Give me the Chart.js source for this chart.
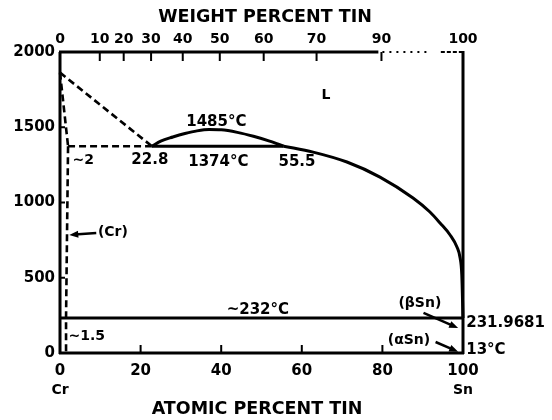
<!DOCTYPE html>
<html>
<head>
<meta charset="utf-8">
<script src="https://cdn.jsdelivr.net/npm/chart.js@4.4.1/dist/chart.umd.min.js"></script>
<style>
  html, body { margin: 0; padding: 0; background: #fff; }
  #wrap { width: 552px; height: 420px; }
</style>
</head>
<body>
<div id="wrap"><canvas id="c" width="552" height="420"></canvas></div>
<script>
// ---- Cr–Sn phase diagram data (composition in at.% Sn, temperature in °C) ----
const atomicTicks = [0, 20, 40, 60, 80, 100];
const tempTicks = [0, 500, 1000, 1500, 2000];
const weightTickValues = [0, 20, 30, 40, 50, 60, 70, 80, 90, 100];
const weightTickLabels = ['0', '10', '20', '30', '40', '50', '60', '70', '90', '100'];

const crMelt = 1863;
const monotecticT = 1374;
const monotecticLeft = 22.8;
const monotecticRight = 55.5;
const gapPeakT = 1485;
const snMelt = 231.9681;
const alphaBetaT = 13;
const crSolvusHigh = 2;
const crSolvusLow = 1.5;

// liquidus from pure Cr to the monotectic
const crLiquidusX = [0, monotecticLeft];
const crLiquidusT = [crMelt, monotecticT];
// Cr solidus
const crSolidusX = [0, crSolvusHigh];
const crSolidusT = [crMelt, monotecticT];
// (Cr) solvus
const crSolvusX = [crSolvusHigh, crSolvusLow, crSolvusLow];
const crSolvusT = [monotecticT, snMelt, 0];
// monotectic isotherm (dashed and solid parts)
const monoDashX = [crSolvusHigh, monotecticLeft];
const monoDashT = [monotecticT, monotecticT];
const monoSolidX = [monotecticLeft, monotecticRight];
const monoSolidT = [monotecticT, monotecticT];
// liquid miscibility gap
const gapX = [22.8, 25, 28, 31, 34, 37, 40, 44, 48, 52, 55.5];
const gapT = [1374, 1408, 1435, 1458, 1476, 1485, 1483, 1466, 1440, 1408, 1374];
// liquidus on the Sn-rich side
const snLiquidusX = [55.5, 62.8, 71.2, 79.4, 87.6, 91.8, 94.3, 96.8, 98.5, 99.3, 99.7, 100];
const snLiquidusT = [1374, 1335, 1269, 1169, 1030, 937, 864, 784, 704, 630, 520, 231.9681];
// degenerate eutectic isotherm
const eutecticX = [0, 100];
const eutecticT = [snMelt, snMelt];

// weight % Sn -> atomic % Sn
const M_SN = 118.71, M_CR = 51.996;
function wtToAt(w) {
  const nSn = w / M_SN, nCr = (100 - w) / M_CR;
  return 100 * nSn / (nSn + nCr);
}
const weightTickPos = weightTickValues.map(wtToAt);

function pts(xs, ys) { return xs.map((v, i) => ({ x: v, y: ys[i] })); }

function line(xs, ys, dashed, smooth) {
  return {
    data: pts(xs, ys),
    showLine: true,
    borderColor: '#000',
    borderWidth: dashed ? 2.6 : 3,
    borderDash: dashed ? [7, 4] : [],
    pointRadius: 0,
    fill: false,
    clip: 10,
    cubicInterpolationMode: smooth ? 'monotone' : 'default',
    tension: 0
  };
}

const FONT = '"DejaVu Sans", "Liberation Sans", sans-serif';

// frame, inner ticks, labels and arrows
const decorations = {
  id: 'decorations',
  afterDatasetsDraw(chart) {
    const { ctx, scales } = chart;
    const X = v => scales.x.getPixelForValue(v);
    const Y = v => scales.y.getPixelForValue(v);
    ctx.save();
    ctx.strokeStyle = '#000';
    ctx.fillStyle = '#000';
    ctx.lineCap = 'butt';

    // frame
    ctx.lineWidth = 3;
    ctx.beginPath();
    ctx.moveTo(X(0), Y(2000)); ctx.lineTo(X(0), Y(0) + 1);
    ctx.moveTo(X(0) - 1, Y(0)); ctx.lineTo(X(100) + 1, Y(0));
    ctx.moveTo(X(100), Y(0) + 1); ctx.lineTo(X(100), Y(2000) - 1);
    ctx.moveTo(X(0) - 1, Y(2000)); ctx.lineTo(X(79), Y(2000));
    ctx.stroke();
    ctx.lineWidth = 2;
    ctx.setLineDash([2, 5]);
    ctx.beginPath();
    ctx.moveTo(X(80), Y(2000)); ctx.lineTo(X(92), Y(2000));
    ctx.stroke();
    ctx.setLineDash([4, 2]);
    ctx.beginPath();
    ctx.moveTo(X(94.5), Y(2000)); ctx.lineTo(X(100), Y(2000));
    ctx.stroke();
    ctx.setLineDash([]);

    // inner tick marks
    ctx.lineWidth = 2;
    ctx.beginPath();
    atomicTicks.slice(1, -1).forEach(v => { ctx.moveTo(X(v), Y(0)); ctx.lineTo(X(v), Y(0) - 8); });
    weightTickPos.slice(1, -1).forEach(v => { ctx.moveTo(X(v), Y(2000)); ctx.lineTo(X(v), Y(2000) + 9); });
    tempTicks.slice(1, -1).forEach(v => { ctx.moveTo(X(0), Y(v)); ctx.lineTo(X(0) + 5, Y(v)); });
    ctx.stroke();

    // arrows
    function arrow(x0, y0, x1, y1) {
      const ang = Math.atan2(y1 - y0, x1 - x0);
      const hl = 9, hw = 3.5;
      ctx.lineWidth = 2.5;
      ctx.beginPath();
      ctx.moveTo(x0, y0);
      ctx.lineTo(x1 - hl * 0.6 * Math.cos(ang), y1 - hl * 0.6 * Math.sin(ang));
      ctx.stroke();
      ctx.beginPath();
      ctx.moveTo(x1, y1);
      ctx.lineTo(x1 - hl * Math.cos(ang) + hw * Math.sin(ang), y1 - hl * Math.sin(ang) - hw * Math.cos(ang));
      ctx.lineTo(x1 - hl * Math.cos(ang) - hw * Math.sin(ang), y1 - hl * Math.sin(ang) + hw * Math.cos(ang));
      ctx.closePath();
      ctx.fill();
    }
    arrow(X(9), Y(797), X(2.3), Y(784));
    arrow(X(90.2), Y(266), X(98.8), Y(166));
    arrow(X(93.2), Y(73), X(98.8), Y(8));

    // labels
    ctx.textBaseline = 'middle';
    function text(str, x, y, size, align) {
      ctx.font = 'bold ' + size + 'px ' + FONT;
      ctx.textAlign = align || 'center';
      ctx.fillText(str, x, y);
    }
    text('L', X(66), Y(1714), 14);
    text(gapPeakT + '°C', X(38.8), Y(1535), 15);
    text('~' + crSolvusHigh, X(3.1), Y(1282), 14, 'left');
    text(String(monotecticLeft), X(22.3), Y(1282), 15);
    text(monotecticT + '°C', X(39.3), Y(1269), 15);
    text(String(monotecticRight), X(58.8), Y(1269), 15);
    text('(Cr)', X(9.4), Y(804), 14, 'left');
    text('~232°C', X(49.1), Y(286), 15);
    text('(βSn)', X(89.3), Y(332), 14);
    text(String(snMelt), X(100.8), Y(199), 15, 'left');
    text('(αSn)', X(86.6), Y(86), 14);
    text(alphaBetaT + '°C', X(100.8), Y(20), 15, 'left');
    text('~' + crSolvusLow, X(2.1), Y(113), 14, 'left');
    text('Cr', X(0), 390, 14);
    text('Sn', X(100), 390, 14);
    text('WEIGHT PERCENT TIN', 265, 17, 17.5);
    text('ATOMIC PERCENT TIN', 257, 409, 17.5);
    ctx.restore();
  }
};

new Chart(document.getElementById('c'), {
  type: 'scatter',
  data: {
    datasets: [
      line(crLiquidusX, crLiquidusT, true),
      line(crSolidusX, crSolidusT, true),
      line(crSolvusX, crSolvusT, true),
      line(monoDashX, monoDashT, true),
      line(monoSolidX, monoSolidT, false),
      line(gapX, gapT, false, true),
      line(snLiquidusX, snLiquidusT, false, true),
      line(eutecticX, eutecticT, false)
    ]
  },
  options: {
    responsive: false,
    animation: false,
    events: [],
    layout: { padding: { left: 0, right: 89, top: 0, bottom: 0 } },
    plugins: { legend: { display: false }, tooltip: { enabled: false }, title: { display: false } },
    scales: {
      x: {
        type: 'linear', position: 'bottom', min: 0, max: 100,
        afterBuildTicks: s => { s.ticks = atomicTicks.map(v => ({ value: v })); },
        afterFit: s => { s.height = 67; },
        grid: { display: false, drawTicks: false },
        border: { display: false },
        ticks: { color: '#000', padding: 9, autoSkip: false, maxRotation: 0,
                 font: { family: FONT, size: 15, weight: 'bold' },
                 callback: v => String(v) }
      },
      x2: {
        type: 'linear', position: 'top', min: 0, max: 100,
        afterBuildTicks: s => { s.ticks = weightTickPos.map(v => ({ value: v })); },
        afterFit: s => { s.height = 52; },
        grid: { display: false, drawTicks: false },
        border: { display: false },
        ticks: { color: '#000', padding: 4, autoSkip: false, maxRotation: 0, minRotation: 0,
                 font: { family: FONT, size: 14, weight: 'bold' },
                 callback: (v, i) => weightTickLabels[i] }
      },
      y: {
        type: 'linear', position: 'left', min: 0, max: 2000,
        afterBuildTicks: s => { s.ticks = tempTicks.map(v => ({ value: v })); },
        afterFit: s => { s.width = 60; },
        grid: { display: false, drawTicks: false },
        border: { display: false },
        ticks: { color: '#000', padding: 5, font: { family: FONT, size: 15, weight: 'bold' },
                 callback: v => String(v) }
      }
    }
  },
  plugins: [decorations]
});
</script>
</body>
</html>
